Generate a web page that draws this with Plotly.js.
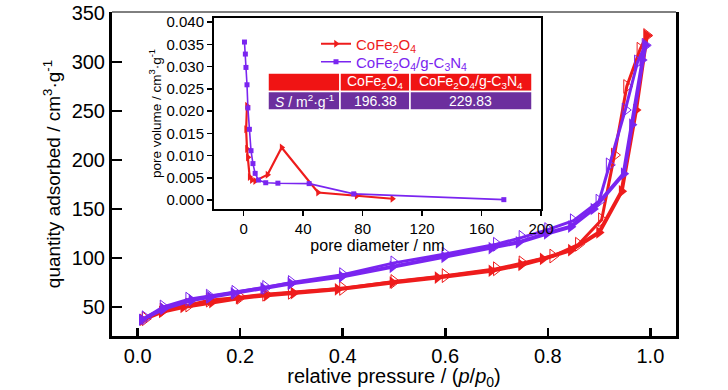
<!DOCTYPE html>
<html>
<head>
<meta charset="utf-8">
<script src="https://cdn.plot.ly/plotly-3.0.1.min.js"></script>
<style>html,body{margin:0;padding:0;background:#fff;}#chart{width:728px;height:390px;}</style>
</head>
<body>
<div id="chart"></div>
<script>
// ---- Main isotherm data (relative pressure p/p0, quantity adsorbed cm3/g) ----
const cfoAdsP = [0.01, 0.047, 0.089, 0.145, 0.197, 0.252, 0.304, 0.39, 0.497, 0.585, 0.69, 0.748, 0.79, 0.845, 0.90, 0.944, 0.972, 0.993];
const cfoAdsV = [37, 45, 50, 55, 59, 62, 64, 68, 75, 80, 87, 93, 99, 108, 126, 168, 251, 327];
const cfoDesP = [0.993, 0.98, 0.954, 0.93, 0.905, 0.86, 0.81, 0.75, 0.70, 0.60, 0.50, 0.40, 0.30, 0.25, 0.20, 0.14, 0.10, 0.05, 0.015];
const cfoDesV = [327, 313, 275, 205, 139, 114, 102, 95, 89, 82, 76, 69, 65, 63, 60, 57, 52, 47, 38];

const cnAdsP = [0.008, 0.05, 0.105, 0.141, 0.187, 0.245, 0.298, 0.398, 0.497, 0.598, 0.69, 0.743, 0.798, 0.845, 0.889, 0.948, 0.964, 0.984, 0.99];
const cnAdsV = [37, 48, 57, 60, 64, 69, 74, 81, 91, 101, 110, 116, 125, 132, 150, 186, 236, 302, 317];
const cnDesP = [0.99, 0.975, 0.951, 0.92, 0.90, 0.85, 0.80, 0.75, 0.70, 0.60, 0.50, 0.40, 0.30, 0.25, 0.19, 0.14, 0.10, 0.05, 0.015];
const cnDesV = [317, 300, 251, 195, 158, 138, 129, 121, 114, 104, 95, 83, 75, 70, 65, 61, 58, 50, 39];

// ---- Inset: pore size distribution (pore diameter nm, pore volume cm3/g) ----
const cfoPoreD = [2.2, 1.6, 2.2, 2.8, 4.0, 5.5, 7.7, 16, 25.5, 50, 76, 100];
const cfoPoreV = [0.0212, 0.0159, 0.0115, 0.0096, 0.0052, 0.0045, 0.0043, 0.0057, 0.0118, 0.0017, 0.0010, 0.0003];
const cnPoreD = [0.5, 1.1, 1.5, 2.2, 2.8, 3.8, 4.9, 6.2, 7.7, 9.9, 14.8, 23, 44, 74, 175];
const cnPoreV = [0.0355, 0.0328, 0.0298, 0.0259, 0.0207, 0.0159, 0.0111, 0.0082, 0.0060, 0.0045, 0.0039, 0.0038, 0.0037, 0.0014, 0.0001];

// ---- Ticks / labels ----
const mainXTicks = [0, 0.2, 0.4, 0.6, 0.8, 1.0];
const mainXTickText = ['0.0', '0.2', '0.4', '0.6', '0.8', '1.0'];
const mainYTicks = [50, 100, 150, 200, 250, 300, 350];
const insetXTicks = [0, 40, 80, 120, 160, 200];
const insetYTicks = [0, 0.005, 0.01, 0.015, 0.02, 0.025, 0.03, 0.035, 0.04];
const insetYTickText = ['0.000', '0.005', '0.010', '0.015', '0.020', '0.025', '0.030', '0.035', '0.040'];

// ---- Table ----
const tableHeader = ['', 'CoFe<sub>2</sub>O<sub>4</sub>', 'CoFe<sub>2</sub>O<sub>4</sub>/g-C<sub>3</sub>N<sub>4</sub>'];
const tableRow = ['<i>S</i> / m<sup>2</sup>·g<sup>-1</sup>', '196.38', '229.83'];
const seriesNames = ['CoFe<sub>2</sub>O<sub>4</sub>', 'CoFe<sub>2</sub>O<sub>4</sub>/g-C<sub>3</sub>N<sub>4</sub>'];

const RED = '#ee1c1c';
const PURPLE = '#7a25f0';
const TABLE_RED = '#f01414';
const TABLE_PURPLE = '#6c2f9e';
const FONT = 'Liberation Sans, Arial, sans-serif';

// plot area in pixels: x 112..676, y 12..336
const L = 112, R = 676, T = 12, B = 336;
const px = x => (x - L) / (R - L);
const py = y => (B - y) / (B - T);

function iso(xs, ys, color, filled) {
  return {
    x: xs, y: ys, type: 'scatter', mode: 'lines+markers', xaxis: 'x', yaxis: 'y',
    showlegend: false, hoverinfo: 'skip',
    line: {color: color, width: filled ? 4 : 3},
    marker: filled
      ? {symbol: 'triangle-right', size: 11, color: color, line: {width: 0}}
      : {symbol: 'triangle-right-open', size: 12, color: color, line: {width: 1, color: color}}
  };
}

const traces = [
  iso(cfoDesP, cfoDesV, RED, false),
  iso(cfoAdsP, cfoAdsV, RED, true),
  iso(cnDesP, cnDesV, PURPLE, false),
  iso(cnAdsP, cnAdsV, PURPLE, true),
  {
    x: cfoPoreD, y: cfoPoreV, type: 'scatter', mode: 'lines+markers', xaxis: 'x2', yaxis: 'y2',
    name: '<span style="color:' + RED + '">' + seriesNames[0] + '</span>', legend: 'legend',
    line: {color: RED, width: 2.2},
    marker: {symbol: 'triangle-right', size: 7, color: RED}
  },
  {
    x: cnPoreD, y: cnPoreV, type: 'scatter', mode: 'lines+markers', xaxis: 'x2', yaxis: 'y2',
    name: '<span style="color:' + PURPLE + '">' + seriesNames[1] + '</span>', legend: 'legend2',
    line: {color: PURPLE, width: 1.6},
    marker: {symbol: 'square', size: 5, color: PURPLE}
  }
];

// table shapes & text
const colX = [268, 340, 410, 532];
const rowY = [73, 91.5, 110];
const shapes = [
  {type: 'line', xref: 'paper', yref: 'paper', x0: 0, x1: 1, y0: 1, y1: 1, line: {color: '#000', width: 1}}
];
const annotations = [];
const rowData = [tableHeader, tableRow];
const rowColors = [TABLE_RED, TABLE_PURPLE];
for (let r = 0; r < 2; r++) {
  for (let c = 0; c < 3; c++) {
    shapes.push({
      type: 'rect', xref: 'paper', yref: 'paper', layer: 'above',
      x0: px(colX[c]), x1: px(colX[c + 1]), y0: py(rowY[r + 1]), y1: py(rowY[r]),
      fillcolor: rowColors[r], line: {color: '#ffffff', width: 1.5}
    });
    if (rowData[r][c]) {
      annotations.push({
        xref: 'paper', yref: 'paper', x: px((colX[c] + colX[c + 1]) / 2), y: py((rowY[r] + rowY[r + 1]) / 2),
        text: rowData[r][c], showarrow: false, xanchor: 'center', yanchor: 'middle',
        font: {family: FONT, size: 14, color: '#ffffff'}
      });
    }
  }
}

const legendBase = {xanchor: 'left', yanchor: 'middle', bgcolor: 'rgba(0,0,0,0)',
  font: {family: FONT, size: 15}, itemwidth: 30, borderwidth: 0};

const layout = {
  width: 728, height: 390,
  margin: {l: L, r: 728 - R, t: T, b: 390 - B},
  paper_bgcolor: '#ffffff', plot_bgcolor: 'rgba(0,0,0,0)',
  font: {family: FONT, color: '#000'},
  showlegend: true,
  legend: Object.assign({}, legendBase, {x: px(316), y: py(44)}),
  legend2: Object.assign({}, legendBase, {x: px(316), y: py(62)}),
  xaxis: {
    domain: [0, 1], range: [-0.05, 1.05], tickvals: mainXTicks, ticktext: mainXTickText,
    ticks: 'inside', ticklen: 8, tickwidth: 2.5, tickcolor: '#000',
    showline: true, linewidth: 3, linecolor: '#000', mirror: false,
    showgrid: false, zeroline: false,
    tickfont: {family: FONT, size: 20},
    title: {text: 'relative pressure / (<i>p</i>/<i>p</i><sub>0</sub>)', font: {family: FONT, size: 20}, standoff: 0}
  },
  yaxis: {
    domain: [0, 1], range: [20.4, 351], tickvals: mainYTicks,
    ticks: 'inside', ticklen: 10, tickwidth: 2.5, tickcolor: '#000',
    showline: true, linewidth: 3, linecolor: '#000', mirror: true,
    showgrid: false, zeroline: false,
    tickfont: {family: FONT, size: 20},
    title: {text: 'quantity adsorbed / cm<sup>3</sup>·g<sup>-1</sup>', font: {family: FONT, size: 19}, standoff: 6}
  },
  xaxis2: {
    domain: [px(214), px(541)], range: [-20, 200], anchor: 'y2', tickvals: insetXTicks,
    ticks: 'outside', ticklen: 5, tickwidth: 1.5, tickcolor: '#000',
    showline: true, linewidth: 2, linecolor: '#000', mirror: true,
    showgrid: false, zeroline: false,
    tickfont: {family: FONT, size: 15},
    title: {text: 'pore diameter / nm', font: {family: FONT, size: 16}, standoff: 0}
  },
  yaxis2: {
    domain: [py(209), py(18)], range: [-0.002, 0.0409], anchor: 'x2', tickvals: insetYTicks, ticktext: insetYTickText,
    ticks: 'outside', ticklen: 5, tickwidth: 1.5, tickcolor: '#000',
    showline: true, linewidth: 2, linecolor: '#000', mirror: true,
    showgrid: false, zeroline: false,
    tickfont: {family: FONT, size: 15},
    title: {text: 'pore volume / cm<sup>3</sup>·g<sup>-1</sup>', font: {family: FONT, size: 13.5}, standoff: 2}
  },
  shapes: shapes,
  annotations: annotations
};

Plotly.newPlot('chart', traces, layout, {displayModeBar: false, staticPlot: true});
</script>
</body>
</html>
